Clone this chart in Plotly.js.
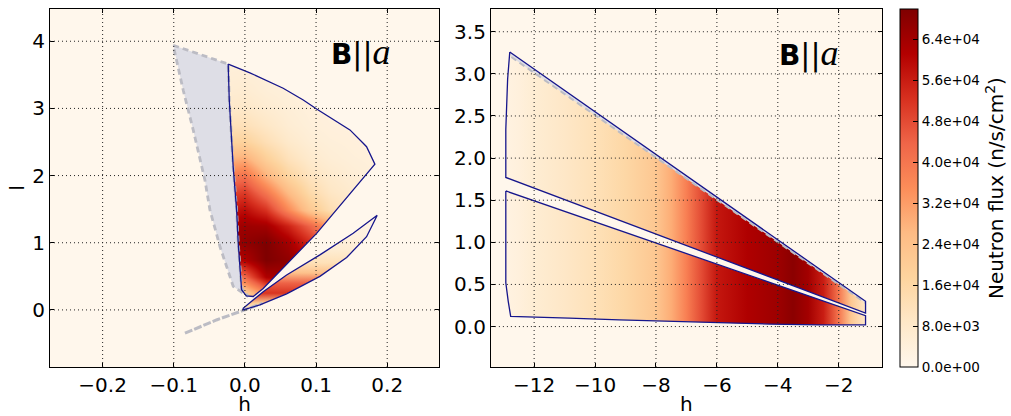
<!DOCTYPE html>
<html><head><meta charset="utf-8">
<script src="https://cdn.plot.ly/plotly-3.0.1.min.js"></script>
<style>html,body{margin:0;padding:0;background:#fff;}#chart{width:1011px;height:416px;}</style>
</head><body><div id="chart"></div>
<script>
// ---------------- colour bar ----------------
const fluxMax = 70000;
const fluxTicks = [0, 8000, 16000, 24000, 32000, 40000, 48000, 56000, 64000];

// ---------------- left panel (B||a, h near 0) ----------------
const leftXTicks = [-0.2, -0.1, 0.0, 0.1, 0.2];
const leftYTicks = [0, 1, 2, 3, 4];
// flux read over the main wedge (rows = l, columns = h)
const gridH = [-0.03, 0.0, 0.03, 0.06, 0.09, 0.12, 0.15, 0.18, 0.21];
const gridL = [0, 0.25, 0.5, 0.75, 1.0, 1.25, 1.5, 1.75, 2.0, 2.25, 2.5, 2.75, 3.0, 3.25, 3.5, 3.75];
const gridFlux = [
  [16000, 18000, 28000, 35000, 32000, 25000, 15000, 8000, 4000],
  [18000, 21000, 36000, 48000, 46000, 38000, 28000, 15000, 8000],
  [38000, 43000, 62000, 64000, 58000, 50000, 38000, 25000, 12000],
  [58000, 62000, 70000, 67000, 60000, 52000, 40000, 28000, 15000],
  [64000, 67000, 70000, 64000, 54000, 42000, 30000, 20000, 10000],
  [62000, 65000, 64000, 55000, 44000, 32000, 22000, 14000, 8000],
  [56000, 59000, 52000, 36000, 22000, 13000, 9000, 7000, 5000],
  [48000, 51000, 40000, 26000, 15000, 9500, 7000, 5500, 4500],
  [38000, 41000, 28000, 17000, 10500, 7500, 5500, 4500, 4000],
  [27000, 29000, 19000, 11500, 7500, 5500, 4500, 4000, 3500],
  [17000, 18000, 12500, 8000, 5500, 4500, 4000, 3500, 3000],
  [11500, 12000, 9000, 6000, 4500, 3800, 3500, 3000, 3000],
  [8000, 8500, 6500, 5000, 4000, 3500, 3000, 3000, 3000],
  [6000, 6500, 5000, 4200, 3600, 3200, 3000, 3000, 3000],
  [5000, 5200, 4300, 3800, 3400, 3000, 3000, 3000, 3000],
  [4200, 4400, 3800, 3400, 3000, 3000, 3000, 3000, 3000]
];
const wedgeH = [-0.0235, 0.007, 0.0538, 0.082, 0.1008, 0.1335, 0.1476, 0.1663, 0.171, 0.1827, 0.1408, 0.1008, 0.0257, 0.0117, 0.002, -0.0047, -0.0094, -0.0117, -0.0165, -0.022, -0.0235];
const wedgeL = [3.66, 3.53, 3.30, 3.125, 2.99, 2.78, 2.68, 2.48, 2.43, 2.17, 1.64, 1.14, 0.32, 0.20, 0.21, 0.30, 0.99, 1.49, 2.13, 3.125, 3.66];
const thinH = [0.186, 0.1522, 0.1054, 0.0586, 0.0257, -0.0024, -0.0024, 0.021, 0.0586, 0.1054, 0.143, 0.171, 0.186];
const thinL = [1.41, 1.14, 0.82, 0.52, 0.27, 0.025, 0.0, 0.074, 0.24, 0.50, 0.78, 1.09, 1.41];
const thinProfileL = [0.0, 0.1, 0.25, 0.4, 0.55, 0.7, 0.9, 1.1, 1.41];
const thinProfileFlux = [5000, 20000, 52000, 44000, 24000, 12000, 6000, 3500, 2000];
const grayH = [-0.1008, -0.0235, -0.022, -0.0165, -0.0117, -0.0094, -0.0047, 0.0046, -0.0164, -0.035, -0.0492, -0.0562, -0.0727, -0.0867, -0.1008];
const grayL = [3.94, 3.66, 3.125, 2.13, 1.49, 0.99, 0.32, 0.20, 0.35, 0.94, 1.49, 1.93, 2.68, 3.27, 3.94];
const tailH = [-0.0843, -0.04, 0.0, 0.025];
const tailL = [-0.347, -0.15, 0.0, 0.10];

// ---------------- right panel (B||a, h from -13 to -1) ----------------
const rightXTicks = [-12, -10, -8, -6, -4, -2];
const rightYTicks = [0, 0.5, 1.0, 1.5, 2.0, 2.5, 3.0, 3.5];
const upperH = [-12.8, -1.12, -1.12, -12.93, -12.93, -12.87, -12.8];
const upperL = [3.26, 0.30, 0.16, 1.77, 2.34, 2.94, 3.26];
const lowerH = [-12.93, -1.12, -1.12, -2.63, -4.27, -7.56, -9.2, -10.85, -12.77, -12.85, -12.93, -12.93];
const lowerL = [1.61, 0.13, 0.02, 0.02, 0.03, 0.06, 0.08, 0.10, 0.12, 0.30, 0.52, 1.61];
const sliverH = [-12.8, -1.12, -1.12, -12.75, -12.8];
const sliverL = [3.26, 0.30, 0.28, 3.20, 3.26];
const sliverEdgeH = [-12.75, -1.12];
const sliverEdgeL = [3.20, 0.28];
const profileH = [-13, -12.5, -12, -11, -10, -9, -8, -7.5, -7, -6.5, -6, -5, -4, -3.5, -3, -2.5, -2, -1.6, -1.1];
const profileFlux = [2500, 4000, 6000, 9000, 12000, 16000, 22000, 29000, 38000, 48000, 57000, 62000, 65000, 68000, 64000, 56000, 40000, 22000, 8000];

// ---------------- helpers ----------------
const BG = '#fff7ec';
const NAVY = 'rgb(22,22,140)';
const GRAYFILL = 'rgb(222,222,230)';
const GRAYLINE = 'rgb(188,188,196)';
const OrRd = [[0,'#fff7ec'],[0.125,'#fee8c8'],[0.25,'#fdd49e'],[0.375,'#fdbb84'],[0.5,'#fc8d59'],[0.625,'#ef6548'],[0.75,'#d7301f'],[0.875,'#b30000'],[1,'#7f0000']];
function hex2rgb(h){return [parseInt(h.slice(1,3),16),parseInt(h.slice(3,5),16),parseInt(h.slice(5,7),16)];}
function fluxColor(v){
  const t = Math.max(0, Math.min(1, v / fluxMax));
  for (let i = 1; i < OrRd.length; i++) {
    if (t <= OrRd[i][0]) {
      const a = OrRd[i-1], b = OrRd[i];
      const f = (t - a[0]) / (b[0] - a[0]);
      const ca = hex2rgb(a[1]), cb = hex2rgb(b[1]);
      const c = ca.map((x, k) => Math.round(x + (cb[k] - x) * f));
      return 'rgb(' + c.join(',') + ')';
    }
  }
  return OrRd[OrRd.length-1][1];
}
function gradientScale(pos, flux){
  const p0 = pos[0], p1 = pos[pos.length-1];
  return pos.map((p, i) => [(p - p0) / (p1 - p0), fluxColor(flux[i])]);
}
function fmtSci(v){
  const parts = v.toExponential(1).split('e');
  const sign = parts[1][0] === '-' ? '-' : '+';
  const d = parts[1].replace(/[+-]/, '').padStart(2, '0');
  return parts[0] + 'e' + sign + d;
}
function area(xs, ys){let s = 0; for (let i = 0; i < xs.length - 1; i++) s += xs[i]*ys[i+1] - xs[i+1]*ys[i]; return s;}

// mask around the main wedge (covers heatmap outside the wedge)
const dh = gridH[1] - gridH[0], dl = gridL[1] - gridL[0];
const mx0 = gridH[0] - dh, mx1 = gridH[gridH.length-1] + dh;
const my0 = gridL[0] - dl, my1 = gridL[gridL.length-1] + dl;
const rectH = [mx0, mx1, mx1, mx0, mx0], rectL = [my0, my0, my1, my1, my0];
let holeH = wedgeH.slice(), holeL = wedgeL.slice();
if (Math.sign(area(rectH, rectL)) === Math.sign(area(holeH, holeL))) { holeH.reverse(); holeL.reverse(); }

const FONT = 'DejaVu Sans';
const traces = [];
traces.push({
  type: 'heatmap', x: gridH, y: gridL, z: gridFlux, zsmooth: 'best',
  colorscale: OrRd, zmin: 0, zmax: fluxMax, xaxis: 'x', yaxis: 'y', hoverinfo: 'skip',
  colorbar: {
    x: 1.0213, xanchor: 'left', xref: 'paper', y: 0.5, yanchor: 'middle', yref: 'paper',
    len: 1, lenmode: 'fraction', thickness: 18, thicknessmode: 'pixels', xpad: 0, ypad: 0,
    outlinecolor: 'black', outlinewidth: 1,
    tickmode: 'array', tickvals: fluxTicks, ticktext: fluxTicks.map(fmtSci),
    ticks: 'inside', ticklen: 5, tickcolor: 'black',
    tickfont: {family: FONT, size: 13.5, color: 'black'},
    title: {text: 'Neutron flux (n/s/cm<sup>2</sup>)', side: 'right', font: {family: FONT, size: 20, color: 'black'}}
  }
});
traces.push({type: 'scatter', mode: 'lines', x: rectH.concat([null], holeH), y: rectL.concat([null], holeL),
  fill: 'toself', fillcolor: BG, line: {width: 0}, xaxis: 'x', yaxis: 'y', hoverinfo: 'skip'});
traces.push({type: 'scatter', mode: 'lines', x: grayH, y: grayL, fill: 'toself', fillcolor: GRAYFILL,
  line: {width: 0}, xaxis: 'x', yaxis: 'y', hoverinfo: 'skip'});
traces.push({type: 'scatter', mode: 'lines', x: thinH, y: thinL, fill: 'toself',
  fillgradient: {type: 'vertical', start: thinProfileL[0], stop: thinProfileL[thinProfileL.length-1], colorscale: gradientScale(thinProfileL, thinProfileFlux)},
  line: {width: 0}, xaxis: 'x', yaxis: 'y', hoverinfo: 'skip'});
traces.push({type: 'scatter', mode: 'lines', x: grayH, y: grayL, line: {color: GRAYLINE, width: 2.8, dash: '6px,4px'}, xaxis: 'x', yaxis: 'y', hoverinfo: 'skip'});
traces.push({type: 'scatter', mode: 'lines', x: tailH, y: tailL, line: {color: GRAYLINE, width: 3, dash: '8px,2px'}, xaxis: 'x', yaxis: 'y', hoverinfo: 'skip'});
traces.push({type: 'scatter', mode: 'lines', x: wedgeH, y: wedgeL, line: {color: NAVY, width: 1.3}, xaxis: 'x', yaxis: 'y', hoverinfo: 'skip'});
traces.push({type: 'scatter', mode: 'lines', x: thinH, y: thinL, line: {color: NAVY, width: 1.3}, xaxis: 'x', yaxis: 'y', hoverinfo: 'skip'});

const hGrad = {type: 'horizontal', start: profileH[0], stop: profileH[profileH.length-1], colorscale: gradientScale(profileH, profileFlux)};
traces.push({type: 'scatter', mode: 'lines', x: upperH, y: upperL, fill: 'toself', fillgradient: hGrad, line: {width: 0}, xaxis: 'x2', yaxis: 'y2', hoverinfo: 'skip'});
traces.push({type: 'scatter', mode: 'lines', x: lowerH, y: lowerL, fill: 'toself', fillgradient: hGrad, line: {width: 0}, xaxis: 'x2', yaxis: 'y2', hoverinfo: 'skip'});
traces.push({type: 'scatter', mode: 'lines', x: sliverH, y: sliverL, fill: 'toself', fillcolor: GRAYFILL, line: {width: 0}, xaxis: 'x2', yaxis: 'y2', hoverinfo: 'skip'});
traces.push({type: 'scatter', mode: 'lines', x: sliverEdgeH, y: sliverEdgeL, line: {color: GRAYLINE, width: 2, dash: '6px,4px'}, xaxis: 'x2', yaxis: 'y2', hoverinfo: 'skip'});
traces.push({type: 'scatter', mode: 'lines', x: upperH, y: upperL, line: {color: NAVY, width: 1.3}, xaxis: 'x2', yaxis: 'y2', hoverinfo: 'skip'});
traces.push({type: 'scatter', mode: 'lines', x: lowerH, y: lowerL, line: {color: NAVY, width: 1.3}, xaxis: 'x2', yaxis: 'y2', hoverinfo: 'skip'});

// dotted grid drawn above the data, as in the original
const gridStyle = {color: '#222', width: 1, dash: '1px,3px'};
const shapes = [];
leftXTicks.forEach(v => shapes.push({type: 'line', layer: 'above', xref: 'x', yref: 'y domain', x0: v, x1: v, y0: 0, y1: 1, line: gridStyle}));
leftYTicks.forEach(v => shapes.push({type: 'line', layer: 'above', xref: 'x domain', yref: 'y', x0: 0, x1: 1, y0: v, y1: v, line: gridStyle}));
rightXTicks.forEach(v => shapes.push({type: 'line', layer: 'above', xref: 'x2', yref: 'y2 domain', x0: v, x1: v, y0: 0, y1: 1, line: gridStyle}));
rightYTicks.forEach(v => shapes.push({type: 'line', layer: 'above', xref: 'x2 domain', yref: 'y2', x0: 0, x1: 1, y0: v, y1: v, line: gridStyle}));

const axisBase = {showgrid: false, zeroline: false, showline: true, mirror: 'allticks', linecolor: 'black', linewidth: 1,
  ticks: 'inside', ticklen: 4, tickcolor: 'black', tickfont: {family: FONT, size: 20, color: 'black'}, tickmode: 'array'};
const titleFont = {family: FONT, size: 20, color: 'black'};
const label = '<b>B</b><span style="font-size:30px">||</span><span style="font-family:Liberation Serif;font-size:36px"><i>a</i></span>';

const layout = {
  width: 1011, height: 416,
  margin: {l: 50, r: 129, t: 9, b: 49, autoexpand: false},
  paper_bgcolor: 'white', plot_bgcolor: BG, showlegend: false,
  xaxis: Object.assign({}, axisBase, {domain: [0, 0.4677], range: [-0.274, 0.273], tickvals: leftXTicks, tickformat: '.1f', anchor: 'y',
    title: {text: 'h', font: titleFont, standoff: 4}}),
  yaxis: Object.assign({}, axisBase, {range: [-0.85, 4.48], tickvals: leftYTicks, anchor: 'x',
    title: {text: 'l', font: titleFont, standoff: 2}}),
  xaxis2: Object.assign({}, axisBase, {domain: [0.5299, 1], range: [-13.42, -0.58], tickvals: rightXTicks, anchor: 'y2',
    title: {text: 'h', font: titleFont, standoff: 4}}),
  yaxis2: Object.assign({}, axisBase, {range: [-0.48, 3.77], tickvals: rightYTicks, tickformat: '.1f', anchor: 'x2'}),
  shapes: shapes,
  annotations: [
    {xref: 'x', yref: 'y', x: 0.163, y: 3.84, text: label, showarrow: false, font: {family: FONT, size: 28, color: 'black'}},
    {xref: 'x2', yref: 'y2', x: -2.99, y: 3.25, text: label, showarrow: false, font: {family: FONT, size: 28, color: 'black'}}
  ]
};
Plotly.newPlot('chart', traces, layout, {displayModeBar: false, staticPlot: true});
</script>
</body></html>
